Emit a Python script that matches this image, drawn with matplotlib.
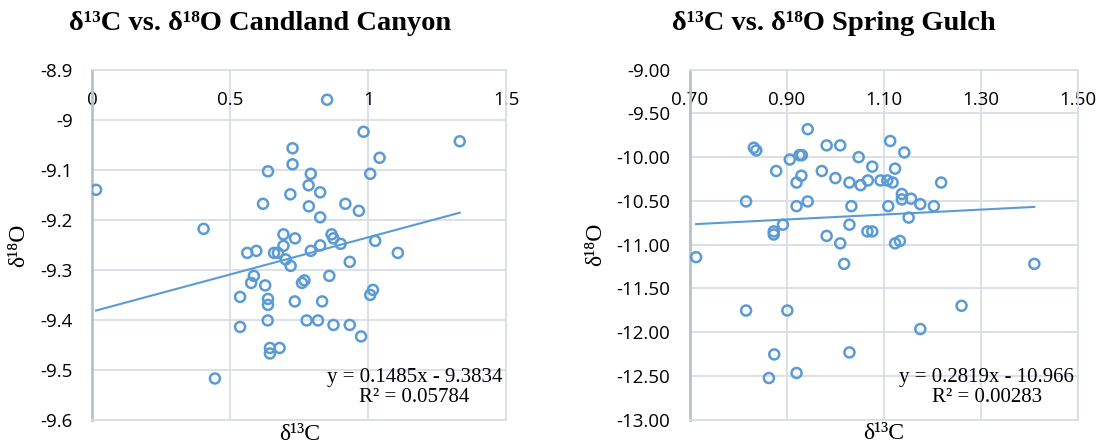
import matplotlib.pyplot as plt

# Candland Canyon data (delta13C, delta18O)
cc_c13 = [0.015, 0.851, 0.983, 1.331, 0.726, 1.041, 0.726, 0.637, 0.792, 1.007,
          0.784, 0.826, 0.718, 0.619, 0.917, 0.785, 0.966, 0.826, 0.404, 0.693,
          0.867, 0.735, 0.874, 1.025, 0.693, 0.826, 0.900, 0.562, 0.595, 0.659,
          0.673, 0.701, 0.719, 0.792, 1.107, 0.933, 0.586, 0.576, 0.627, 0.536,
          0.637, 0.637, 0.734, 0.760, 0.769, 0.859, 0.833, 1.017, 1.007, 0.636,
          0.777, 0.818, 0.874, 0.933, 0.974, 0.536, 0.644, 0.644, 0.679, 0.445]
cc_o18 = [-9.140, -8.960, -9.024, -9.043, -9.057, -9.076, -9.089, -9.103, -9.108, -9.108,
          -9.131, -9.145, -9.149, -9.168, -9.168, -9.173, -9.182, -9.195, -9.218, -9.229,
          -9.229, -9.237, -9.237, -9.242, -9.252, -9.251, -9.248, -9.266, -9.262, -9.266,
          -9.266, -9.279, -9.292, -9.262, -9.266, -9.284, -9.312, -9.326, -9.331, -9.354,
          -9.358, -9.370, -9.363, -9.326, -9.321, -9.312, -9.363, -9.340, -9.350, -9.401,
          -9.401, -9.401, -9.410, -9.410, -9.433, -9.414, -9.456, -9.467, -9.456, -9.517]
cc_slope, cc_icpt, cc_r2 = 0.1485, -9.3834, "0.05784"

# Spring Gulch data
sg_c13 = [0.943, 1.113, 0.832, 0.837, 0.982, 1.010, 1.142, 0.926, 0.931, 0.906,
          1.048, 1.076, 1.123, 0.878, 0.972, 0.930, 1.000, 0.920, 1.029, 1.052,
          1.067, 1.093, 1.107, 1.118, 1.218, 0.816, 0.943, 1.137, 1.137, 1.156,
          1.175, 1.203, 0.920, 1.033, 1.109, 1.151, 0.892, 1.029, 0.873, 0.873,
          0.982, 1.066, 1.076, 1.010, 1.123, 1.133, 0.713, 1.018, 1.410, 0.816,
          0.901, 1.260, 1.175, 0.874, 1.029, 0.863, 0.920]
sg_o18 = [-9.680, -9.815, -9.892, -9.923, -9.865, -9.865, -9.946, -9.977, -9.977, -10.027,
          -10.000, -10.108, -10.131, -10.158, -10.158, -10.212, -10.239, -10.290, -10.290, -10.320,
          -10.266, -10.266, -10.266, -10.290, -10.290, -10.506, -10.506, -10.421, -10.483, -10.475,
          -10.537, -10.560, -10.560, -10.560, -10.560, -10.691, -10.772, -10.772, -10.849, -10.884,
          -10.900, -10.849, -10.849, -10.985, -10.985, -10.958, -11.143, -11.220, -11.220, -11.753,
          -11.753, -11.699, -11.965, -12.255, -12.232, -12.525, -12.467]
sg_slope, sg_icpt, sg_r2 = 0.2819, -10.966, "0.00283"

blue = "#5b9bd5"
grid = "#d9dde6"
serif = "Liberation Serif"
sans = "Open Sans"

fig = plt.figure(figsize=(11, 4.44), dpi=100)
ax1 = fig.add_axes([0.0836, 0.054, 0.3768, 0.789])
ax2 = fig.add_axes([0.6271, 0.055, 0.3529, 0.788])


def style(ax, xlim, ylim, xticks, yticks, fmt):
    ax.set_xlim(*xlim)
    ax.set_ylim(*ylim)
    ax.set_xticks(xticks)
    ax.set_yticks(yticks)
    ax.set_xticklabels([fmt % v for v in xticks], fontfamily=sans, fontsize=13.5)
    ax.set_yticklabels([fmt % v for v in yticks], fontfamily=sans, fontsize=13.5)
    ax.xaxis.tick_top()
    ax.tick_params(axis="x", length=0, pad=-28)
    ax.tick_params(axis="y", length=0, pad=14)
    ax.grid(True, color=grid, linewidth=1.3)
    ax.set_axisbelow(True)
    for s in ["top", "right", "bottom"]:
        ax.spines[s].set_color(grid)
        ax.spines[s].set_linewidth(1.3)
    ax.spines["left"].set_color("#b8c0d0")
    ax.spines["left"].set_linewidth(2)


def panel(ax, x, y, slope, icpt, r2, ylab_x):
    ax.scatter(x, y, s=52, facecolors="none", edgecolors=blue, linewidths=1.8, zorder=3)
    xs = [min(x), max(x)]
    ax.plot(xs, [slope * v + icpt for v in xs], color=blue, linewidth=1.5, zorder=2)
    sign = "-" if icpt < 0 else "+"
    eq = "y = %gx %s %g\nR² = %s" % (slope, sign, abs(icpt), r2)
    ax.text(0.99, 0.092, eq, transform=ax.transAxes, ha="right", va="center",
            multialignment="center", fontfamily=serif, fontsize=15, linespacing=1.1)
    ax.set_xlabel("δ¹³C", fontfamily=serif, fontsize=17)
    ax.xaxis.label.set_verticalalignment("center")
    ax.xaxis.set_label_coords(0.5, -0.04)
    ax.set_ylabel("δ¹⁸O", fontfamily=serif, fontsize=17)
    ax.yaxis.label.set_verticalalignment("center")
    ax.yaxis.set_label_coords(ylab_x, 0.5)


style(ax1, (0, 1.5), (-9.6, -8.9), [0, 0.5, 1, 1.5],
      [-8.9, -9.0, -9.1, -9.2, -9.3, -9.4, -9.5, -9.6], "%g")
panel(ax1, cc_c13, cc_o18, cc_slope, cc_icpt, cc_r2, -0.178)

style(ax2, (0.7, 1.5), (-13, -9), [0.7, 0.9, 1.1, 1.3, 1.5],
      [-9.0, -9.5, -10.0, -10.5, -11.0, -11.5, -12.0, -12.5, -13.0], "%.2f")
panel(ax2, sg_c13, sg_o18, sg_slope, sg_icpt, sg_r2, -0.242)

fig.text(260 / 1100, 0.948, "δ¹³C vs. δ¹⁸O Candland Canyon", ha="center", va="center",
         fontfamily=serif, fontweight="bold", fontsize=20.5)
fig.text(834 / 1100, 0.948, "δ¹³C vs. δ¹⁸O Spring Gulch", ha="center", va="center",
         fontfamily=serif, fontweight="bold", fontsize=20.5)

fig.savefig("out.png", dpi=100)
